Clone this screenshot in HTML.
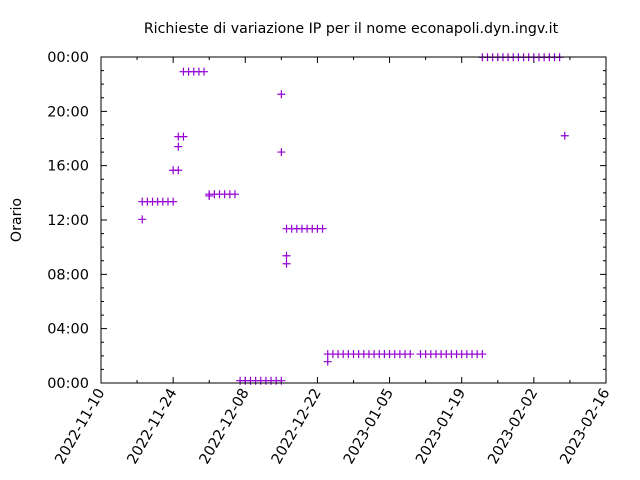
<!DOCTYPE html>
<html><head><meta charset="utf-8"><style>body{margin:0;background:#fff}svg{display:block;font-family:"DejaVu Sans","Liberation Sans",sans-serif}</style></head>
<body>
<svg id="chart" width="640" height="480">
<text x="351" y="33" text-anchor="middle" font-size="14.2">Richieste di variazione IP per il nome econapoli.dyn.ingv.it</text>
<text x="21" y="220" text-anchor="middle" font-size="14.2" transform="rotate(-90 21 220)">Orario</text>
<g id="axes"></g><g id="marks"></g>
<rect x="101" y="57" width="505" height="326" fill="none" stroke="#000" stroke-width="1"/>
</svg>
<script>
const xTickLabels=["2022-11-10","2022-11-24","2022-12-08","2022-12-22","2023-01-05","2023-01-19","2023-02-02","2023-02-16"];
const yTickLabels=["00:00","04:00","08:00","12:00","16:00","20:00","00:00"];
const pointDays=[8,9,10,11,12,13,14,8,14,15,15,15,16,16,17,18,19,20,21,22,23,24,25,26,21,27,28,29,30,31,32,33,34,35,35,35,36,37,38,39,40,41,42,43,36,36,
44,45,46,47,48,49,50,51,52,53,54,55,56,57,58,59,60,44,62,63,64,65,66,67,68,69,70,71,72,73,74,
74,75,76,77,78,79,80,81,82,83,84,85,86,87,88,89,90];
const pointHours=[13.35,13.35,13.35,13.35,13.35,13.35,13.35,12.05,15.66,15.66,17.4,18.14,18.14,22.92,22.92,22.92,22.92,22.92,13.9,13.9,13.9,13.9,13.9,13.9,13.77,0.17,0.17,0.17,0.17,0.17,0.17,0.17,0.17,0.17,21.26,17.0,11.36,11.36,11.36,11.36,11.36,11.36,11.36,11.36,9.37,8.78,
2.13,2.13,2.13,2.13,2.13,2.13,2.13,2.13,2.13,2.13,2.13,2.13,2.13,2.13,2.13,2.13,2.13,1.57,2.13,2.13,2.13,2.13,2.13,2.13,2.13,2.13,2.13,2.13,2.13,2.13,2.13,
23.98,23.98,23.98,23.98,23.98,23.98,23.98,23.98,23.98,23.98,23.98,23.98,23.98,23.98,23.98,23.98,18.2];
const X0=101,X1=606,Y0=383,Y1=57,DAYS=98;
const xs=d=>X0+(X1-X0)*d/DAYS, ys=h=>Y0-(Y0-Y1)*h/24;
const NS="http://www.w3.org/2000/svg",axes=document.getElementById('axes'),marks=document.getElementById('marks');
function mk(tag,at,p){const e=document.createElementNS(NS,tag);for(const k in at)e.setAttribute(k,at[k]);p.appendChild(e);return e;}
for(let d=0;d<=DAYS;d+=7){const x=xs(d),L=d%14==0?6:3;
 const t=mk('path',{d:`M${x},${Y0}v${-L}M${x},${Y1}v${L}`,stroke:'#000'},axes);
 
 }
xTickLabels.forEach((s,i)=>{const x=xs(i*14);
 const t=mk('text',{x:x+4,y:392,'text-anchor':'end','font-size':14.5,transform:`rotate(-60 ${x+4} 392)`},axes);t.textContent=s;
 
 });
for(let h=0;h<=24;h++){const y=ys(h),L=h%4==0?6:3;
 const t=mk('path',{d:`M${X0},${y}h${L}M${X1},${y}h${-L}`,stroke:'#000'},axes);
 
 }
yTickLabels.forEach((s,i)=>{const y=ys(i*4);
 const t=mk('text',{x:89,y:y+5,'text-anchor':'end','font-size':14.5},axes);t.textContent=s;
 
 });
pointDays.forEach((d,i)=>{const x=xs(d),y=ys(pointHours[i]);
 const p=mk('path',{d:`M${x-4},${y}h8M${x},${y-4}v8`,stroke:'#9400d3','stroke-width':1.2},marks);
 
 });
</script>
</body></html>
